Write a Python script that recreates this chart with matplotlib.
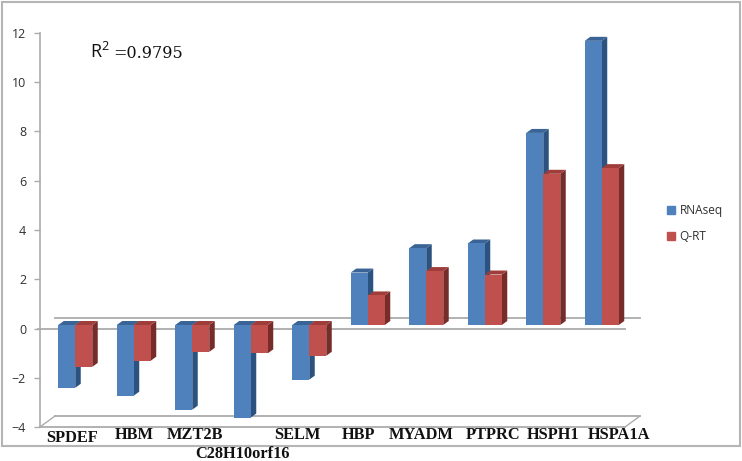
"""
Pseudo-3D clustered bars of RNAseq against Q-RT fold changes.
"""

import matplotlib
matplotlib.use('Agg')
import matplotlib.pyplot as plt
from matplotlib.patches import Polygon, Rectangle
from matplotlib.lines import Line2D
import numpy as np

genes = ['SPDEF', 'HBM', 'MZT2B', 'C28H10orf16', 'SELM',
         'HBP', 'MYADM', 'PTPRC', 'HSPH1', 'HSPA1A']
rnaseq = [-2.55, -2.87, -3.44, -3.76, -2.22, 2.13, 3.12, 3.31, 7.80, 11.54]
qrt = [-1.70, -1.45, -1.09, -1.15, -1.25, 1.20, 2.19, 2.05, 6.14, 6.37]
y_ticks = [-4, -2, 0, 2, 4, 6, 8, 10, 12]
series_names = ['RNAseq', 'Q-RT']
r_squared = '=0.9795'

W, H = 742, 461
# gene label placement in image pixels (x centre, y centre)
label_px = [(72, 438), (134, 435), (195, 435), (242, 454), (297, 435),
            (358, 435), (421, 435), (493, 435), (553, 435), (619, 435)]

BLUE = ('#4F81BD', '#2C5380', '#3A6496')
RED = ('#C0504D', '#772C2A', '#9E3D3A')
GREY = '#ABABAB'

AX_L, AX_R, AX_T, AX_B = 40, 625, 33, 427
PX_X = 10 / (AX_R - AX_L)
PX_Y = 16 / (AX_B - AX_T)
DEPTH_X = 5.5 * PX_X
DEPTH_Y = 4 * PX_Y
BASE = 3.5 * PX_Y
BAR_W = 17 * PX_X
WALL_X = 15 * PX_X
WALL_Y = 11 * PX_Y


def draw_series(ax, lefts, values, colors, z):
    """Draw front, side and top faces of each bar."""
    front, side, top = colors
    ax.bar(lefts, values, width=BAR_W, bottom=BASE, align='edge',
           color=front, linewidth=0, zorder=z + 0.2)
    for x, v in zip(lefts, values):
        end = BASE + v
        upper = max(BASE, end)
        r = x + BAR_W
        ax.add_patch(Polygon([(r, BASE), (r, end), (r + DEPTH_X, end + DEPTH_Y),
                              (r + DEPTH_X, BASE + DEPTH_Y)],
                             color=side, linewidth=0, zorder=z, clip_on=False))
        ax.add_patch(Polygon([(x, upper), (r, upper),
                              (r + DEPTH_X, upper + DEPTH_Y),
                              (x + DEPTH_X, upper + DEPTH_Y)],
                             color=top, linewidth=0, zorder=z + 0.1, clip_on=False))


fig = plt.figure(figsize=(W / 100, H / 100), dpi=100, facecolor='white')
ax = fig.add_axes([AX_L / W, 1 - AX_B / H, (AX_R - AX_L) / W, (AX_B - AX_T) / H])
ax.set_xlim(0, 10)
ax.set_ylim(-4, 12)
ax.patch.set_visible(False)

for s in ['top', 'right', 'bottom']:
    ax.spines[s].set_visible(False)
ax.spines['left'].set_color(GREY)
ax.spines['left'].set_linewidth(1.2)
ax.set_xticks([])
ax.set_yticks(y_ticks)
ax.tick_params(axis='y', length=4, width=1, color=GREY, pad=6,
               labelsize=9, labelcolor='#303030')
for t in ax.get_yticklabels():
    t.set_fontfamily('Open Sans')

# floor and zero plane outlines
for level in [0, -4]:
    ax.plot([-2 * PX_X if level == 0 else 0, 10], [level, level], color=GREY, lw=1.3,
            zorder=1, clip_on=False)
    ax.plot([WALL_X, 10 + WALL_X], [level + WALL_Y, level + WALL_Y], color=GREY, lw=1.3,
            zorder=1, clip_on=False)
for x in [0, 10]:
    ax.plot([x, x + WALL_X], [-4, -4 + WALL_Y], color=GREY, lw=1, zorder=1, clip_on=False)

x = np.arange(len(genes)) + 0.5 + 6 * PX_X
draw_series(ax, x - BAR_W, rnaseq, BLUE, 2)
draw_series(ax, x, qrt, RED, 3)

for name, (px, py) in zip(genes, label_px):
    fig.text(px / W, 1 - py / H, name, family='Liberation Serif', weight='bold',
             fontsize=11.8, color='#111111', ha='center', va='center')

fig.text(90 / W, 1 - 52 / H, r'R$\mathregular{^2}$', family='Open Sans',
         fontsize=13, weight='medium', color='#111111', ha='left', va='center')
fig.text(113 / W, 1 - 53 / H, r_squared, family='DejaVu Serif',
         fontsize=11.5, color='#111111', ha='left', va='center')

handles = [Line2D([], [], linestyle='none', marker='s', markersize=5.8,
                  color=BLUE[0]),
           Line2D([], [], linestyle='none', marker='s', markersize=5.8,
                  color=RED[0])]
fig.legend(handles, series_names, loc='center left',
           bbox_to_anchor=(652 / W, 1 - 223.5 / H), frameon=False,
           handlelength=1.4, handletextpad=0.0, labelspacing=1.05,
           prop={'family': 'Open Sans', 'size': 8.6}, labelcolor='#303030')

# outer picture frame
fig.add_artist(Rectangle((2 / W, 1 - 446 / H), 738 / W, 444 / H, fill=False,
                         edgecolor='#B5B5B5', linewidth=1.5,
                         transform=fig.transFigure))

plt.savefig('out.png', dpi=100)
